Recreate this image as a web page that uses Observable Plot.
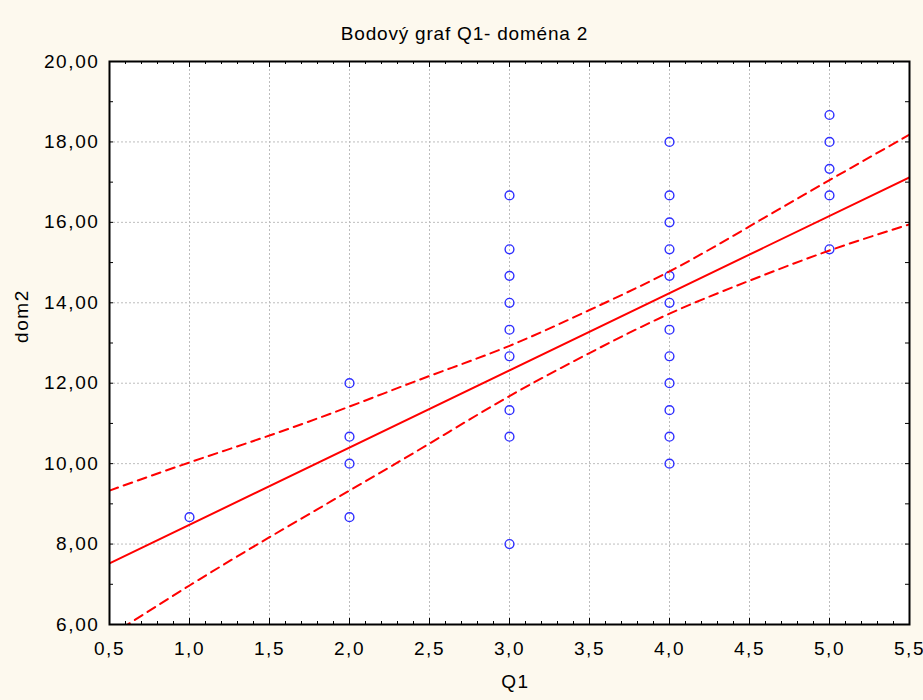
<!DOCTYPE html>
<html>
<head>
<meta charset="utf-8">
<script src="https://cdn.jsdelivr.net/npm/d3@7"></script>
<script src="https://cdn.jsdelivr.net/npm/@observablehq/plot@0.6"></script>
<style>
  html, body { margin: 0; padding: 0; background: #fdf9ee; }
  #wrap { width: 923px; height: 700px; background: #fdf9ee; overflow: hidden; }
  #title {
    height: 50px; box-sizing: border-box; padding-top: 23px; padding-left: 6px;
    line-height: 22px; text-align: center;
    font-family: "Liberation Sans", Arial, sans-serif; font-size: 19px; letter-spacing: 0.8px; color: #000;
  }
  #chart svg { overflow: visible; }
</style>
</head>
<body>
<div id="wrap">
  <div id="title">Bodový graf Q1- doména 2</div>
  <div id="chart"></div>
</div>
<script>
// ---- data ----
const q1 = [
  1,
  2, 2, 2, 2,
  3, 3, 3, 3, 3, 3, 3, 3, 3,
  4, 4, 4, 4, 4, 4, 4, 4, 4, 4, 4, 4,
  5, 5, 5, 5, 5
];
const dom2 = [
  8.67,
  12.00, 10.67, 10.00, 8.67,
  16.67, 15.33, 14.67, 14.00, 13.33, 12.67, 11.33, 10.67, 8.00,
  18.00, 16.67, 16.00, 15.33, 14.67, 14.00, 13.33, 12.67, 12.00, 11.33, 10.67, 10.00,
  18.67, 18.00, 17.33, 16.67, 15.33
];
// fitted regression line (endpoints)
const fitX = [0.5, 5.5];
const fitY = [7.52, 17.12];
// 95% confidence band
const bandX = [0.5, 1.0, 1.5, 2.0, 2.5, 3.0, 3.5, 4.0, 4.5, 5.0, 5.5];
const bandUpper = [9.33, 10.03, 10.70, 11.42, 12.18, 12.93, 13.82, 14.78, 15.90, 17.05, 18.18];
const bandLower = [5.71, 6.97, 8.17, 9.33, 10.50, 11.68, 12.75, 13.73, 14.55, 15.30, 15.95];
// axis ticks
const xTicks = [0.5, 1.0, 1.5, 2.0, 2.5, 3.0, 3.5, 4.0, 4.5, 5.0, 5.5];
const yTicks = [6, 8, 10, 12, 14, 16, 18, 20];
const xMinor = d3.range(5, 56).map(d => d / 10);
const yMinor = d3.range(6, 21);

const points = q1.map((x, i) => ({x, y: dom2[i]}));
const fit = fitX.map((x, i) => ({x, y: fitY[i]}));
const upper = bandX.map((x, i) => ({x, y: bandUpper[i]}));
const lower = bandX.map((x, i) => ({x, y: bandLower[i]}));

const W = 923, H = 650, mt = 11, mb = 76, ml = 109, mr = 14;
const fh = H - mt - mb, fw = W - ml - mr;
const comma = (d, n) => d.toFixed(n).replace(".", ",");
const red = "#ff0000";

const chart = Plot.plot({
  width: W, height: H,
  marginTop: mt, marginBottom: mb, marginLeft: ml, marginRight: mr,
  style: {background: "transparent", fontFamily: "'Liberation Sans', Arial, sans-serif", fontSize: "19px", letterSpacing: "1.6px", color: "#000", overflow: "visible"},
  x: {domain: [0.5, 5.5], ticks: xTicks, tickFormat: d => comma(d, 1), tickSize: 0, tickPadding: 16.5, label: null},
  y: {domain: [6, 20], ticks: yTicks, tickFormat: d => comma(d, 2), tickSize: 0, tickPadding: 10, label: null},
  marks: [
    Plot.frame({fill: "white", stroke: null}),
    Plot.ruleX(xTicks, {stroke: "#bdbdbd", strokeDasharray: "2,2", strokeWidth: 1}),
    Plot.ruleY(yTicks, {stroke: "#bdbdbd", strokeDasharray: "2,2", strokeWidth: 1}),
    Plot.dot(points, {x: "x", y: "y", r: 4.4, stroke: "#2f2fff", fill: "none", strokeWidth: 1.4}),
    Plot.line(fit, {x: "x", y: "y", stroke: red, strokeWidth: 2, clip: true}),
    Plot.line(upper, {x: "x", y: "y", stroke: red, strokeWidth: 2, strokeDasharray: "9,6", curve: "natural", clip: true}),
    Plot.line(lower, {x: "x", y: "y", stroke: red, strokeWidth: 2, strokeDasharray: "9,6", curve: "natural", clip: true}),
    // inward ticks on the frame
    Plot.ruleX(xMinor, {insetTop: fh - 3, stroke: "black", strokeWidth: 1}),
    Plot.ruleX(xTicks, {insetTop: fh - 6, stroke: "black", strokeWidth: 1}),
    Plot.ruleX(xMinor, {insetBottom: fh - 3, stroke: "black", strokeWidth: 1}),
    Plot.ruleX(xTicks, {insetBottom: fh - 6, stroke: "black", strokeWidth: 1}),
    Plot.ruleY(yMinor, {insetRight: fw - 4, stroke: "black", strokeWidth: 1}),
    Plot.ruleY(yMinor, {insetLeft: fw - 4, stroke: "black", strokeWidth: 1}),
    Plot.frame({stroke: "black", strokeWidth: 2}),
    Plot.text(["dom2"], {frameAnchor: "left", dx: -88, rotate: -90, fill: "black"}),
    Plot.text(["Q1"], {frameAnchor: "bottom", dy: 63, dx: 6, fill: "black"})
  ]
});
document.getElementById("chart").appendChild(chart);
</script>
</body>
</html>
